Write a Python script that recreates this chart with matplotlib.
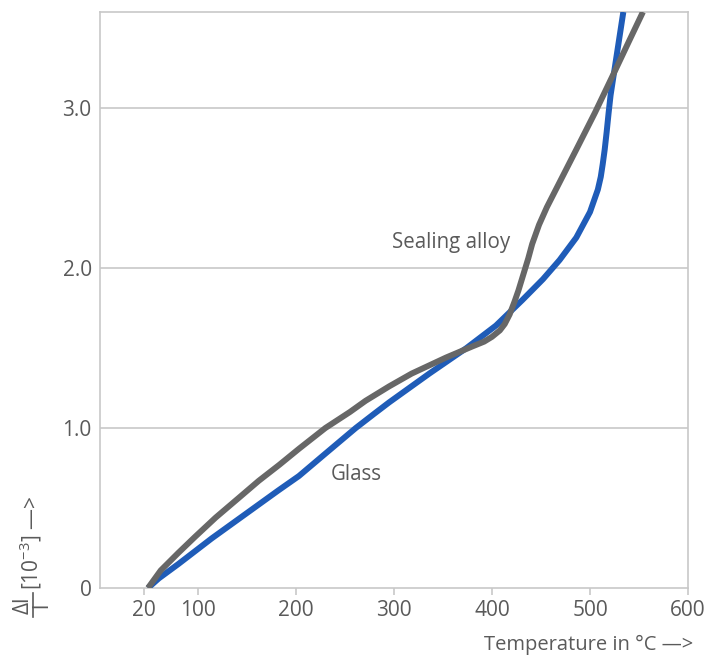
import matplotlib
matplotlib.use("Agg")
import matplotlib.pyplot as plt
from matplotlib.lines import Line2D

plt.rcParams['font.family'] = ['Open Sans', 'DejaVu Sans']
plt.rcParams['mathtext.fontset'] = 'custom'
plt.rcParams['mathtext.rm'] = 'Open Sans'
plt.rcParams['mathtext.it'] = 'Open Sans'

# Data (x in axis units, y in 10^-3)
glass_x = [49, 60, 80, 114, 148, 182, 203, 230, 261, 280, 295, 336, 374, 404, 431,
           452, 469, 486, 500, 504, 508, 511, 513, 515, 517, 519, 521, 524, 527, 530, 532, 534]
glass_y = [0.0, 0.06, 0.15, 0.31, 0.46, 0.61, 0.7, 0.84, 1.0, 1.09, 1.16, 1.34, 1.5,
           1.64, 1.8, 1.93, 2.05, 2.19, 2.35, 2.42, 2.49, 2.57, 2.65, 2.74, 2.85, 2.97,
           3.08, 3.2, 3.32, 3.44, 3.52, 3.6]

alloy_x = [49, 62, 80, 97, 118, 141, 162, 183, 203, 230, 255, 271, 295, 318, 353, 380,
           392, 400, 408, 413, 418, 423, 427, 432, 437, 441, 448, 456, 466, 486, 505, 523, 540, 554]
alloy_y = [0.0, 0.11, 0.22, 0.32, 0.44, 0.56, 0.67, 0.77, 0.87, 1.0, 1.1, 1.17, 1.26,
           1.34, 1.44, 1.51, 1.54, 1.57, 1.61, 1.65, 1.71, 1.79, 1.86, 1.96, 2.06, 2.15,
           2.27, 2.38, 2.5, 2.74, 2.97, 3.2, 3.42, 3.6]

xtick_pos = [45, 100, 200, 300, 400, 500, 600]
xtick_labels = ["20", "100", "200", "300", "400", "500", "600"]
ytick_pos = [0, 1, 2, 3]
ytick_labels = ["0", "1.0", "2.0", "3.0"]

TXT = '#5a5a5a'
GRID = '#c8c8c8'
W, H = 709, 660

fig = plt.figure(figsize=(7.09, 6.60), dpi=100)
ax = fig.add_axes([100/W, 72/H, 588/W, 576/H])

ax.plot(glass_x, glass_y, color='#1f5cb8', lw=4.3, solid_joinstyle='round',
        solid_capstyle='butt', zorder=3)
ax.plot(alloy_x, alloy_y, color='#676767', lw=4.3, solid_joinstyle='round',
        solid_capstyle='butt', zorder=4)

ax.set_xlim(0, 600)
ax.set_ylim(0, 3.6)
ax.set_xticks(xtick_pos)
ax.set_xticklabels(xtick_labels)
ax.set_yticks(ytick_pos)
ax.set_yticklabels(ytick_labels)

for y in [1, 2, 3]:
    ax.axhline(y, color=GRID, lw=1.2, zorder=1)

for s in ax.spines.values():
    s.set_color(GRID)
    s.set_linewidth(1.2)

ax.tick_params(axis='x', length=5, width=1.2, color=GRID, labelcolor=TXT, labelsize=15, pad=4)
ax.tick_params(axis='y', length=0, labelcolor=TXT, labelsize=15, pad=6)

ax.text(358, 2.16, "Sealing alloy", color=TXT, fontsize=14.8, ha='center', va='center')
ax.text(261, 0.71, "Glass", color=TXT, fontsize=14.8, ha='center', va='center')

fig.text(693/W, 1 - 645/H, "Temperature in °C —>", color=TXT, fontsize=14.5,
         ha='right', va='center')

# y-axis label: fraction  Δl / l  followed by [10^-3] —>
fig.text(23/W, 1 - 605/H, "Δl", color=TXT, fontsize=15, rotation=90,
         ha='center', va='center')
fig.text(42/W, 1 - 605/H, "l", color=TXT, fontsize=15, rotation=90,
         ha='center', va='center')
fig.add_artist(Line2D([33/W, 33/W], [1 - 617/H, 1 - 593/H], color=TXT, lw=1.2,
                      transform=fig.transFigure))
fig.text(31/W, 1 - 590/H, "[10$^{-3}$] —>", color=TXT, fontsize=15, rotation=90,
         ha='center', va='bottom')

fig.savefig("out.png", dpi=100)
